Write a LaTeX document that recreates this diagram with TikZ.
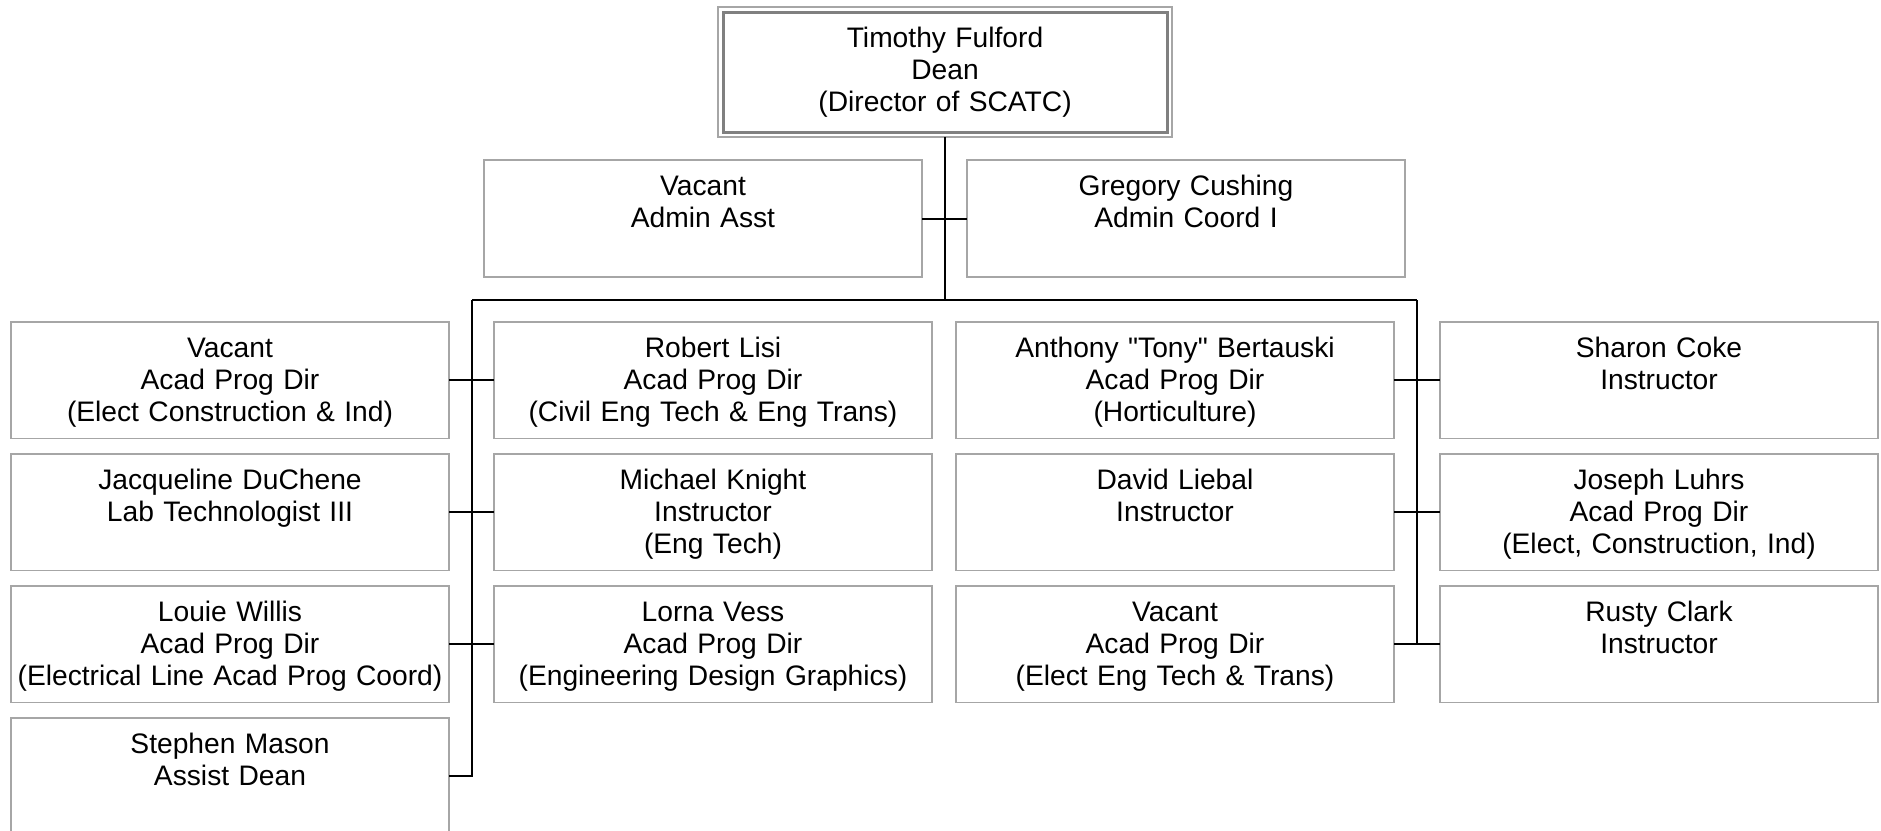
\documentclass[tikz,border=0pt]{standalone}
\usepackage{fontspec}
\setmainfont{Liberation Sans}
\usepackage{tikz}
\usetikzlibrary{positioning,fit}
\definecolor{boxgray}{RGB}{166,166,166}
\definecolor{deangray}{RGB}{128,128,128}

\begin{document}
\begin{tikzpicture}[
  x=1pt,y=-1pt,
  every node/.style={font=\fontsize{28.2}{32.4}\selectfont},
  pbox/.style={draw=boxgray,line width=1.5pt,inner sep=0pt,outer sep=0pt,
               text width=438pt,align=center,
               text height=35pt,text depth=81.5pt},
  deanbox/.style={draw=deangray,line width=3pt,inner sep=0pt,outer sep=0pt,
                  text width=444pt,align=center,
                  text height=35pt,text depth=85pt},
  deanframe/.style={draw=boxgray,line width=1.5pt,inner sep=5pt,outer sep=0pt},
  link/.style={draw=black,line width=2pt}
]
\useasboundingbox (0,0) rectangle (1881,830);

% ---- Dean and office ----
\node[deanbox] (dean) at (945,72) {Timothy Fulford\\Dean\\(Director of SCATC)};
\node[deanframe,fit=(dean)] (deanfr) {};
\node[pbox,text depth=82pt] (asst)   at (703,218.5)  {Vacant\\Admin Asst};
\node[pbox,text depth=82pt] (coordi) at (1186,218.5) {Gregory Cushing\\Admin Coord I};

% ---- Left branch ----
\node[pbox] (vac1) at (230,380.25) {Vacant\\Acad Prog Dir\\(Elect Construction \& Ind)};
\node[pbox,below=15.5pt of vac1]    (duchene) {Jacqueline DuChene\\Lab Technologist III};
\node[pbox,below=15.5pt of duchene] (willis)  {Louie Willis\\Acad Prog Dir\\(Electrical Line Acad Prog Coord)};
\node[pbox,below=15.5pt of willis,text depth=91.5pt] (mason) {Stephen Mason\\Assist Dean};

\node[pbox] (lisi) at (713,380.25) {Robert Lisi\\Acad Prog Dir\\(Civil Eng Tech \& Eng Trans)};
\node[pbox,below=15.5pt of lisi]    (knight) {Michael Knight\\Instructor\\(Eng Tech)};
\node[pbox,below=15.5pt of knight]  (vess)   {Lorna Vess\\Acad Prog Dir\\(Engineering Design Graphics)};

% ---- Right branch ----
\node[pbox] (bertauski) at (1175,380.25) {Anthony \textquotedbl Tony\textquotedbl{} Bertauski\\Acad Prog Dir\\(Horticulture)};
\node[pbox,below=15.5pt of bertauski] (liebal) {David Liebal\\Instructor};
\node[pbox,below=15.5pt of liebal]    (vac3)   {Vacant\\Acad Prog Dir\\(Elect Eng Tech \& Trans)};

\node[pbox] (coke) at (1659,380.25) {Sharon Coke\\Instructor};
\node[pbox,below=15.5pt of coke]  (luhrs) {Joseph Luhrs\\Acad Prog Dir\\(Elect, Construction, Ind)};
\node[pbox,below=15.5pt of luhrs] (clark) {Rusty Clark\\Instructor};

% ---- Connectors ----
\coordinate (busm) at (945,300);
\coordinate (busl) at (472,300);
\coordinate (busr) at (1417,300);

\draw[link] (deanfr.south) -- (busm);
\draw[link] (asst.east) -- (coordi.west);
\draw[link] (busl) -- (busr);
\draw[link] (busl) |- ([yshift=5pt]mason.east);
\draw[link] (busr) -- (busr |- vac3.east);

\draw[link] (vac1.east)    -- (lisi.west);
\draw[link] (duchene.east) -- (knight.west);
\draw[link] (willis.east)  -- (vess.west);
\draw[link] (bertauski.east) -- (coke.west);
\draw[link] (liebal.east)    -- (luhrs.west);
\draw[link] (vac3.east)      -- (clark.west);

\end{tikzpicture}
\end{document}
